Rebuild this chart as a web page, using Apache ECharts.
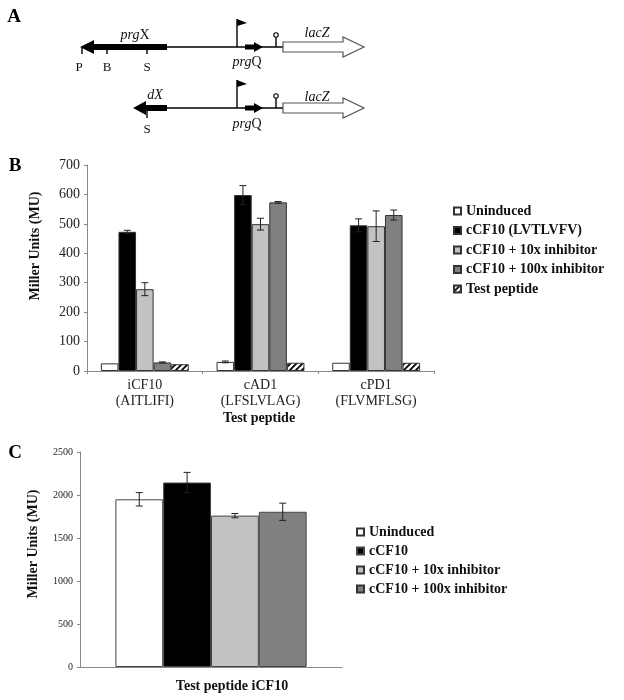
<!DOCTYPE html>
<html><head><meta charset="utf-8">
<script src="https://cdn.jsdelivr.net/npm/echarts@6/dist/echarts.min.js"></script>
<style>html,body{margin:0;padding:0;background:#fff}#c{width:624px;height:700px}</style>
</head><body><div id="c"></div>
<script>
// ---------- Panel B data ----------
const categoriesB = ['iCF10\n(AITLIFI)', 'cAD1\n(LFSLVLAG)', 'cPD1\n(FLVMFLSG)'];
const namesB = ['Uninduced', 'cCF10 (LVTLVFV)', 'cCF10 + 10x inhibitor', 'cCF10 + 100x inhibitor', 'Test peptide'];
const uninducedB = [26, 31, 28];
const cCF10B = [473, 598, 495];
const inh10B = [278, 499, 492];
const inh100B = [29, 573, 530];
const testPeptideB = [23, 28, 28];
const uninducedErrB = [0, 3, 0];
const cCF10ErrB = [5, 32, 22];
const inh10ErrB = [22, 20, 52];
const inh100ErrB = [2, 3, 17];
const testPeptideErrB = [0, 0, 0];
const yTicksB = [0, 100, 200, 300, 400, 500, 600, 700];

// ---------- Panel C data ----------
const categoriesC = ['Test peptide iCF10'];
const namesC = ['Uninduced', 'cCF10', 'cCF10 + 10x inhibitor', 'cCF10 + 100x inhibitor'];
const valuesC = [1950, 2145, 1760, 1805];
const errorsC = [78, 118, 25, 100];
const yTicksC = [0, 500, 1000, 1500, 2000, 2500];

const serif = '"Liberation Serif","Times New Roman",serif';
const fills = ['#ffffff', '#000000', '#c2c2c2', '#808080'];

// hatch pattern
const pc = document.createElement('canvas');
pc.width = 6; pc.height = 6;
const g = pc.getContext('2d');
g.fillStyle = '#fff'; g.fillRect(0, 0, 6, 6);
g.strokeStyle = '#000'; g.lineWidth = 1.8;
g.beginPath();
g.moveTo(-1, 7); g.lineTo(7, -1);
g.moveTo(-4, 4); g.lineTo(4, -4);
g.moveTo(2, 10); g.lineTo(10, 2);
g.stroke();
const hatch = { image: pc, repeat: 'repeat' };

const GAP_B = 0.24, GAP_C = 0.27;

function errRender(idx, n, gap) {
  return function (params, api) {
    const cat = api.value(0), val = api.value(1), err = api.value(2);
    if (!err) return null;
    const band = api.size([1, 0])[0];
    const total = band * (1 - gap);
    const w = total / n;
    const base = api.coord([cat, val]);
    const x = base[0] - total / 2 + w * (idx + 0.5);
    const top = api.coord([cat, val + err])[1];
    const bot = api.coord([cat, val - err])[1];
    const cap = 3.5;
    const st = { stroke: '#222', lineWidth: 1 };
    return { type: 'group', children: [
      { type: 'line', shape: { x1: x, y1: top, x2: x, y2: bot }, style: st },
      { type: 'line', shape: { x1: x - cap, y1: top, x2: x + cap, y2: top }, style: st },
      { type: 'line', shape: { x1: x - cap, y1: bot, x2: x + cap, y2: bot }, style: st }
    ]};
  };
}

const seriesB = [uninducedB, cCF10B, inh10B, inh100B, testPeptideB];
const errB = [uninducedErrB, cCF10ErrB, inh10ErrB, inh100ErrB, testPeptideErrB];
const series = [];
seriesB.forEach((vals, i) => {
  series.push({
    type: 'bar', name: namesB[i], xAxisIndex: 0, yAxisIndex: 0,
    data: vals, barGap: '0%', barCategoryGap: (GAP_B * 100) + '%',
    itemStyle: { color: i === 4 ? hatch : fills[i], borderColor: '#333', borderWidth: 1 },
    emphasis: { disabled: true }
  });
});
seriesB.forEach((vals, i) => {
  series.push({
    type: 'custom', xAxisIndex: 0, yAxisIndex: 0, z: 5,
    renderItem: errRender(i, 5, GAP_B),
    data: vals.map((v, k) => [k, v, errB[i][k]]),
    encode: { x: 0, y: 1 }, silent: true
  });
});
namesC.forEach((nm, i) => {
  series.push({
    type: 'bar', name: nm, xAxisIndex: 1, yAxisIndex: 1,
    data: [valuesC[i]], barGap: '0%', barCategoryGap: (GAP_C * 100) + '%',
    itemStyle: { color: fills[i], borderColor: '#444', borderWidth: 1 },
    emphasis: { disabled: true }
  });
});
namesC.forEach((nm, i) => {
  series.push({
    type: 'custom', xAxisIndex: 1, yAxisIndex: 1, z: 5,
    renderItem: errRender(i, 4, GAP_C),
    data: [[0, valuesC[i], errorsC[i]]],
    encode: { x: 0, y: 1 }, silent: true
  });
});

// ---------- Panel A diagram ----------
const blk = { fill: '#000' };
const thin = { stroke: '#000', lineWidth: 1.4 };
function flag(x, y) {
  return [
    { type: 'line', shape: { x1: x, y1: y, x2: x, y2: y - 28 }, style: thin },
    { type: 'polygon', shape: { points: [[x, y - 28], [x + 10, y - 24], [x, y - 21]] }, style: blk }
  ];
}
function qArrow(y) {
  return { type: 'polygon', shape: { points: [[245, y - 2.5], [254, y - 2.5], [254, y - 5], [263, y], [254, y + 5], [254, y + 2.5], [245, y + 2.5]] }, style: blk };
}
function lolli(y) {
  return [
    { type: 'line', shape: { x1: 276, y1: y, x2: 276, y2: y - 10 }, style: thin },
    { type: 'circle', shape: { cx: 276, cy: y - 12, r: 2.2 }, style: { fill: '#fff', stroke: '#000', lineWidth: 1.1 } }
  ];
}
function lac(y) {
  return { type: 'polygon', shape: { points: [[283, y - 5], [343, y - 5], [343, y - 10], [364, y], [343, y + 10], [343, y + 5], [283, y + 5]] },
    style: { fill: '#fff', stroke: '#555', lineWidth: 1.2 } };
}
function txt(x, y, text, opts) {
  return Object.assign({ type: 'text', x: x, y: y, style: Object.assign({ text: text, font: '13px ' + serif, fill: '#111', textAlign: 'center', textVerticalAlign: 'middle' }, opts || {}) });
}
function rich(x, y, text) {
  return { type: 'text', x: x, y: y, style: { text: text, fill: '#111', align: 'center', verticalAlign: 'middle',
    rich: { i: { fontFamily: serif, fontStyle: 'italic', fontSize: 14, fill: '#111' }, n: { fontFamily: serif, fontSize: 14, fill: '#111' } } } };
}
const y1 = 47, y2 = 108;
const diagram = [
  // row 1
  { type: 'line', shape: { x1: 167, y1: y1, x2: 283, y2: y1 }, style: thin },
  { type: 'polygon', shape: { points: [[80, y1], [94, y1 - 7], [94, y1 - 3], [167, y1 - 3], [167, y1 + 3], [94, y1 + 3], [94, y1 + 7]] }, style: blk },
  { type: 'line', shape: { x1: 82, y1: y1, x2: 82, y2: y1 + 7 }, style: thin },
  { type: 'line', shape: { x1: 107, y1: y1, x2: 107, y2: y1 + 7 }, style: thin },
  { type: 'line', shape: { x1: 147, y1: y1, x2: 147, y2: y1 + 7 }, style: thin },
  ...flag(237, y1), qArrow(y1), ...lolli(y1), lac(y1),
  rich(135, 35, '{i|prg}{n|X}'), rich(317, 33, '{i|lacZ}'), rich(247, 62, '{i|prg}{n|Q}'),
  txt(79, 68, 'P'), txt(107, 68, 'B'), txt(147, 68, 'S'),
  // row 2
  { type: 'line', shape: { x1: 167, y1: y2, x2: 283, y2: y2 }, style: thin },
  { type: 'polygon', shape: { points: [[133, y2], [146, y2 - 7], [146, y2 - 3], [167, y2 - 3], [167, y2 + 3], [146, y2 + 3], [146, y2 + 7]] }, style: blk },
  { type: 'line', shape: { x1: 147, y1: y2, x2: 147, y2: y2 + 10 }, style: thin },
  ...flag(237, y2), qArrow(y2), ...lolli(y2), lac(y2),
  rich(155, 95, '{i|dX}'), rich(317, 97, '{i|lacZ}'), rich(247, 124, '{i|prg}{n|Q}'),
  txt(147, 130, 'S'),
  // panel letters
  txt(14, 17, 'A', { font: 'bold 19px ' + serif, fill: '#000' }),
  txt(15, 166, 'B', { font: 'bold 19px ' + serif, fill: '#000' }),
  txt(15, 453, 'C', { font: 'bold 19px ' + serif, fill: '#000' }),
  // axis titles
  { type: 'text', x: 35, y: 246, rotation: Math.PI / 2, style: { text: 'Miller Units (MU)', font: 'bold 14px ' + serif, fill: '#111', textAlign: 'center', textVerticalAlign: 'middle' } },
  { type: 'text', x: 33, y: 544, rotation: Math.PI / 2, style: { text: 'Miller Units (MU)', font: 'bold 14px ' + serif, fill: '#111', textAlign: 'center', textVerticalAlign: 'middle' } },
  txt(259, 418, 'Test peptide', { font: 'bold 14px ' + serif }),
  txt(232, 686, categoriesC[0], { font: 'bold 14px ' + serif })
];

const axisLine = { lineStyle: { color: '#888', width: 1 } };
const legendText = { fontFamily: serif, fontWeight: 'bold', fontSize: 14, color: '#111' };
const option = {
  animation: false,
  backgroundColor: '#fff',
  grid: [
    { left: 87, top: 165, width: 347, height: 206 },
    { left: 80, top: 452, width: 262, height: 215 }
  ],
  xAxis: [
    { type: 'category', gridIndex: 0, data: categoriesB, axisLine: axisLine,
      axisTick: { show: true, length: 3, lineStyle: { color: '#888' } },
      axisLabel: { fontFamily: serif, fontSize: 14, color: '#222', lineHeight: 16.5, margin: 6 } },
    { type: 'category', gridIndex: 1, data: categoriesC, axisLine: axisLine,
      axisTick: { show: false }, axisLabel: { show: false } }
  ],
  yAxis: [
    { type: 'value', gridIndex: 0, min: yTicksB[0], max: yTicksB[yTicksB.length - 1], interval: 100,
      axisLine: { show: true, lineStyle: { color: '#888' } }, axisTick: { show: true, length: 3, lineStyle: { color: '#888' } },
      splitLine: { show: false },
      axisLabel: { fontFamily: serif, fontSize: 14, color: '#222', margin: 7, formatter: v => String(v) } },
    { type: 'value', gridIndex: 1, min: yTicksC[0], max: yTicksC[yTicksC.length - 1], interval: 500,
      axisLine: { show: true, lineStyle: { color: '#888' } }, axisTick: { show: true, length: 3, lineStyle: { color: '#888' } },
      splitLine: { show: false },
      axisLabel: { fontFamily: serif, fontSize: 10, color: '#222', margin: 7, formatter: v => String(v) } }
  ],
  legend: [
    { data: namesB.map(n => ({ name: n, icon: 'rect' })), orient: 'vertical', left: 448, top: 199, itemWidth: 7, itemHeight: 7, itemGap: 5.5,
      textStyle: legendText, selectedMode: false },
    { data: namesC.map(n => ({ name: n, icon: 'rect' })), orient: 'vertical', left: 351, top: 520, itemWidth: 7, itemHeight: 7, itemGap: 5,
      textStyle: legendText, selectedMode: false }
  ],
  graphic: diagram,
  series: series
};
const chart = echarts.init(document.getElementById('c'), null, { renderer: 'canvas' });
chart.setOption(option);
</script></body></html>
